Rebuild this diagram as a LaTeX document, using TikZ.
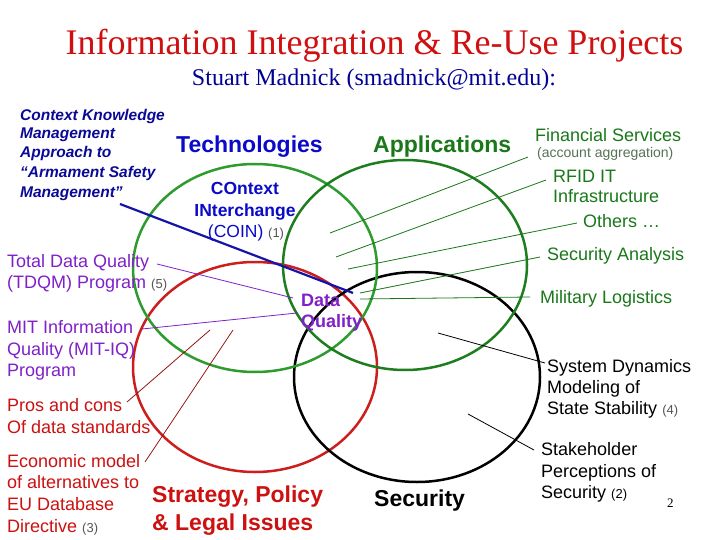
\documentclass[tikz,border=0pt]{standalone}
\usepackage{fontspec}
\setmainfont{Liberation Serif}
\newfontfamily\arialf{Liberation Sans}
\newcommand\mysz[1]{\fontsize{#1}{#1}\selectfont}
\definecolor{titlered}{RGB}{208,16,16}
\definecolor{subblue}{RGB}{0,0,150}
\definecolor{ckblue}{RGB}{10,10,150}
\definecolor{techblue}{RGB}{10,10,200}
\definecolor{appgreen}{RGB}{25,120,25}
\definecolor{agggreen}{RGB}{85,115,85}
\definecolor{ringgreenA}{RGB}{45,155,45}
\definecolor{ringgreenB}{RGB}{30,125,30}
\definecolor{ringred}{RGB}{205,30,30}
\definecolor{dqpurple}{RGB}{128,32,200}
\definecolor{txtred}{RGB}{205,16,16}
\definecolor{leadred}{RGB}{150,20,20}
\definecolor{numgray}{RGB}{85,85,85}
\definecolor{lineblue}{RGB}{20,20,170}
\begin{document}
\begin{tikzpicture}[x=1pt,y=-1pt,
  lbl/.style={inner sep=0pt, anchor=base west},
  ring/.style={line width=2.5pt},
  lead/.style={line width=0.8pt},
  cklbl/.style={lbl, text=ckblue, font=\arialf\bfseries\itshape\mysz{15.5}},
  bigbold/.style={lbl, font=\arialf\bfseries\mysz{23}},
  coinlbl/.style={inner sep=0pt, anchor=base, text=techblue, font=\arialf\bfseries\mysz{17.5}},
  purlbl/.style={lbl, text=dqpurple, font=\arialf\mysz{18}},
  redlbl/.style={lbl, text=txtred, font=\arialf\mysz{18}},
  grnlbl/.style={lbl, text=appgreen, font=\arialf\mysz{18}},
  blklbl/.style={lbl, text=black, font=\arialf\mysz{18}},
  dqlbl/.style={lbl, text=dqpurple, font=\arialf\bfseries\mysz{18}},
  nummark/.style={text=numgray, font=\arialf\mysz{13}}
]
\useasboundingbox (0,0) rectangle (720,540);
\fill[white] (0,0) rectangle (720,540);

% titles
\node[inner sep=0pt, anchor=base] (title) at (374.5,55) {\textcolor{titlered}{\mysz{36}Information Integration \& Re-Use Projects}};
\node[inner sep=0pt, anchor=base] (subtitle) at (374,86) {\textcolor{subblue}{\mysz{24}Stuart Madnick (smadnick@mit.edu):}};

% rings
\draw[ring, ringred] (255,367) ellipse [x radius=122, y radius=105];
\draw[ring, black] (417,377) ellipse [x radius=123, y radius=105];
\draw[ring, ringgreenA] (255,268) ellipse [x radius=122, y radius=104];
\draw[ring, ringgreenB] (405,265) ellipse [x radius=122, y radius=105];

% coordinates for connector ends
\coordinate (ckS) at (120,204);  \coordinate (ckE) at (353,293);
\coordinate (tdS) at (157,264);  \coordinate (tdE) at (293,298);
\coordinate (miS) at (142,329);  \coordinate (miE) at (297,313);
\coordinate (prS) at (127,402);  \coordinate (prE) at (210,330);
\coordinate (ecS) at (145,462);  \coordinate (ecE) at (233,330);
\coordinate (fsS) at (528,157);  \coordinate (fsE) at (330,233);
\coordinate (rfS) at (546,180);  \coordinate (rfE) at (336,257);
\coordinate (otS) at (577,223);  \coordinate (otE) at (348,269);
\coordinate (saS) at (540,257);  \coordinate (saE) at (360,293);
\coordinate (mlS) at (530,297);  \coordinate (mlE) at (360,299);
\coordinate (sdS) at (545,363);  \coordinate (sdE) at (438,333);
\coordinate (shS) at (534,450);  \coordinate (shE) at (468,414);

% connectors
\draw[line width=2.2pt, lineblue] (ckS) -- (ckE);
\draw[lead, dqpurple] (tdS) -- (tdE);
\draw[lead, dqpurple] (miS) -- (miE);
\draw[lead, leadred] (prS) -- (prE);
\draw[lead, leadred] (ecS) -- (ecE);
\draw[lead, appgreen] (fsS) -- (fsE);
\draw[lead, appgreen] (rfS) -- (rfE);
\draw[lead, appgreen] (otS) -- (otE);
\draw[lead, appgreen] (saS) -- (saE);
\draw[lead, appgreen] (mlS) -- (mlE);
\draw[lead, black] (sdS) -- (sdE);
\draw[lead, black] (shS) -- (shE);

% context knowledge
\node[cklbl] (ck1) at (20,121) {Context Knowledge};
\node[cklbl] (ck2) at (20,139) {Management};
\node[cklbl] (ck3) at (20,158) {Approach to};
\node[cklbl] (ck4) at (20,178) {“Armament Safety};
\node[cklbl] (ck5) at (20,197) {Management”};

% headings
\node[bigbold, text=techblue] (tech) at (176,153) {Technologies};
\node[bigbold, text=appgreen] (apps) at (373,153) {Applications};
\node[bigbold, text=txtred] (strat1) at (152,502) {Strategy, Policy};
\node[bigbold, text=txtred] (strat2) at (152,530) {\& Legal Issues};
\node[bigbold, text=black] (secu) at (374,506) {Security};

% COIN
\node[coinlbl] (coin1) at (245,195) {COntext};
\node[coinlbl] (coin2) at (245,217) {INterchange};
\node[coinlbl] (coin3) at (246,237) {\mdseries (COIN) {\color{numgray}\mysz{13}(1)}};

% Data quality
\node[dqlbl] (dq1) at (301,306) {Data};
\node[dqlbl] (dq2) at (301,327) {Quality};

% left purple
\node[purlbl] (td1) at (7,267) {Total Data Quality};
\node[purlbl] (td2) at (7,288) {(TDQM) Program {\color{numgray}\mysz{13}(5)}};
\node[purlbl] (mi1) at (7,333) {MIT Information};
\node[purlbl] (mi2) at (7,355) {Quality (MIT-IQ)};
\node[purlbl] (mi3) at (7,376) {Program};

% left red
\node[redlbl] (pr1) at (7,411) {Pros and cons};
\node[redlbl] (pr2) at (7,433) {Of data standards};
\node[redlbl] (ec1) at (7,467) {Economic model};
\node[redlbl] (ec2) at (7,488) {of alternatives to};
\node[redlbl] (ec3) at (7,510) {EU Database};
\node[redlbl] (ec4) at (7,532) {Directive {\color{numgray}\mysz{13}(3)}};

% right green
\node[grnlbl] (fs1) at (535,142) {Financial Services};
\node[lbl, text=agggreen, font=\arialf\mysz{14}] (fs2) at (537,158) {(account aggregation)};
\node[grnlbl] (rf1) at (553,183) {RFID IT};
\node[grnlbl] (rf2) at (553,203) {Infrastructure};
\node[grnlbl] (ot1) at (583,227) {Others …};
\node[grnlbl] (sa1) at (547,260) {Security Analysis};
\node[grnlbl] (ml1) at (540,303) {Military Logistics};

% right black
\node[blklbl] (sd1) at (547,372) {System Dynamics};
\node[blklbl] (sd2) at (547,393) {Modeling of};
\node[blklbl] (sd3) at (547,414) {State Stability {\color{numgray}\mysz{13}(4)}};
\node[blklbl] (sh1) at (541,455) {Stakeholder};
\node[blklbl] (sh2) at (541,477) {Perceptions of};
\node[blklbl] (sh3) at (541,498) {Security {\mysz{13}(2)}};

\node[lbl, font=\mysz{13}] (pagenum) at (667,507) {2};
\end{tikzpicture}
\end{document}
